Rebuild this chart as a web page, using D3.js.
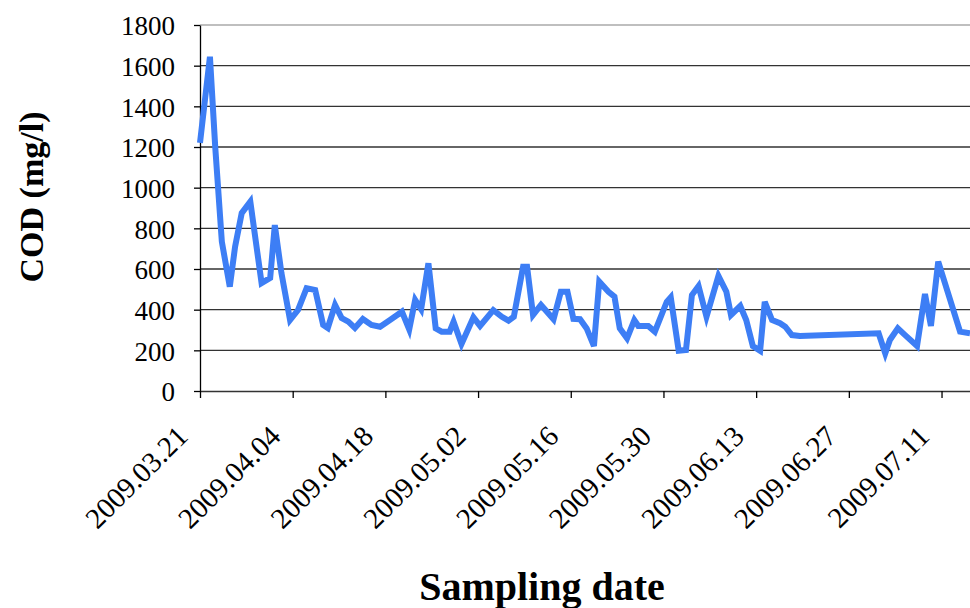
<!DOCTYPE html>
<html>
<head>
<meta charset="utf-8">
<script src="https://cdn.jsdelivr.net/npm/d3@7"></script>
<style>
  body { margin: 0; background: #fff; }
  svg text { font-family: "Liberation Serif", "Times New Roman", serif; fill: #000; }
</style>
</head>
<body>
<div id="chart"></div>
<script>
// days after 2009.03.21 at which COD was sampled
const sampleDay = [0, 1.5, 2.3, 3.3, 4.5, 5.3, 6.3, 7.6, 9.3, 10.6, 11.3, 12.3, 13.6, 14.8, 16.1, 17.4,
  18.6, 19.3, 20.4, 21.4, 22.4, 23.4, 24.6, 25.9, 27.2, 28.7, 30.5, 31.6, 32.5, 33.4, 34.5, 35.6,
  36.5, 37.7, 38.3, 39.5, 41.3, 42.3, 44.3, 45.6, 46.6, 47.4, 48.8, 49.4, 50.3, 51.5, 53.4, 54.5,
  55.5, 56.4, 57.4, 58.4, 59.5, 60.3, 61.7, 62.6, 63.4, 64.5, 65.6, 66.2, 67.7, 68.7, 70.5, 71.1,
  72.3, 73.4, 74.3, 75.3, 76.5, 78.3, 79.5, 80.2, 81.6, 82.5, 83.5, 84.6, 85.3, 86.4, 87.6, 88.4,
  89.4, 90.6, 102.5, 103.5, 104.2, 105.4, 106.5, 108.3, 109.5, 110.4, 111.5, 114.8, 116.3];
const cod = [1220, 1644, 1200, 734, 513, 710, 875, 931, 531, 556, 816, 580, 349, 398, 506, 497,
  325, 310, 423, 359, 341, 310, 354, 325, 316, 349, 390, 303, 448, 402, 628, 308,
  292, 292, 341, 231, 362, 320, 398, 365, 346, 365, 611, 611, 374, 423, 353, 488,
  488, 355, 353, 308, 221, 538, 488, 464, 308, 259, 349, 320, 320, 292, 439, 461,
  198, 202, 472, 516, 365, 566, 488, 374, 418, 349, 221, 198, 439, 349, 333, 316,
  275, 270, 284, 185, 251, 308, 275, 221, 477, 320, 636, 292, 284];
const yTicks = [0, 200, 400, 600, 800, 1000, 1200, 1400, 1600, 1800];
const xTickLabels = ["2009.03.21", "2009.04.04", "2009.04.18", "2009.05.02", "2009.05.16",
  "2009.05.30", "2009.06.13", "2009.06.27", "2009.07.11"];

const width = 970, height = 608;
const margin = {top: 25, right: 0, bottom: 217, left: 200};
const parseTick = d3.timeParse("%Y.%m.%d");
const startDate = parseTick("2009.03.21");
const dayMs = 864e5;
const endDate = new Date(+startDate + 116.3 * dayMs);

const data = sampleDay.map((d, i) => ({date: new Date(+startDate + d * dayMs), value: cod[i]}));

const svg = d3.select("#chart").append("svg")
    .attr("width", width)
    .attr("height", height);

const xScale = d3.scaleTime().domain([startDate, endDate]).range([margin.left, width - margin.right]);
const yScale = d3.scaleLinear().domain([0, 1800]).range([height - margin.bottom, margin.top]);

// gridlines
svg.append("g")
    .selectAll("line")
    .data(yTicks.filter(t => t > 0))
    .join("line")
    .attr("x1", margin.left)
    .attr("x2", width - margin.right)
    .attr("y1", d => yScale(d))
    .attr("y2", d => yScale(d))
    .attr("stroke", d => d === 1800 ? "#aaa" : "#333")
    .attr("stroke-width", 1.3);

// y axis
const yAxis = svg.append("g")
    .attr("transform", "translate(" + margin.left + ",0)")
    .call(d3.axisLeft(yScale).tickValues(yTicks).tickFormat(d3.format("d"))
        .tickSize(6).tickPadding(19).tickSizeOuter(0));
yAxis.select(".domain").attr("stroke", "#000").attr("stroke-width", 1.3);
yAxis.selectAll(".tick line").attr("stroke", "#000").attr("stroke-width", 1.3);
yAxis.selectAll("text").style("font-size", "27px").attr("dy", "0.36em");

// x axis
const xAxis = svg.append("g")
    .attr("transform", "translate(0," + yScale(0) + ")")
    .call(d3.axisBottom(xScale)
        .tickValues(xTickLabels.map(parseTick))
        .tickFormat(d3.timeFormat("%Y.%m.%d"))
        .tickSize(7).tickSizeOuter(0));
xAxis.select(".domain").attr("stroke", "#333").attr("stroke-width", 1.5);
xAxis.selectAll(".tick line").attr("stroke", "#000").attr("stroke-width", 1.3);
xAxis.selectAll("text")
    .style("font-size", "29px")
    .attr("text-anchor", "end")
    .attr("y", 0).attr("dy", 0)
    .attr("transform", "translate(-11,47) rotate(-45)");

// series line
svg.append("path")
    .datum(data)
    .attr("fill", "none")
    .attr("stroke", "#3d7ef5")
    .attr("stroke-width", 6)
    .attr("stroke-linejoin", "miter")
    .attr("d", d3.line().x(d => xScale(d.date)).y(d => yScale(d.value)));

// axis titles
svg.append("text")
    .attr("text-anchor", "middle")
    .attr("transform", "translate(43," + 197 + ") rotate(-90)")
    .style("font-size", "34px")
    .style("font-weight", "bold")
    .text("COD (mg/l)");

svg.append("text")
    .attr("text-anchor", "middle")
    .attr("x", 542)
    .attr("y", 600)
    .style("font-size", "40px")
    .style("font-weight", "bold")
    .text("Sampling date");
</script>
</body>
</html>
